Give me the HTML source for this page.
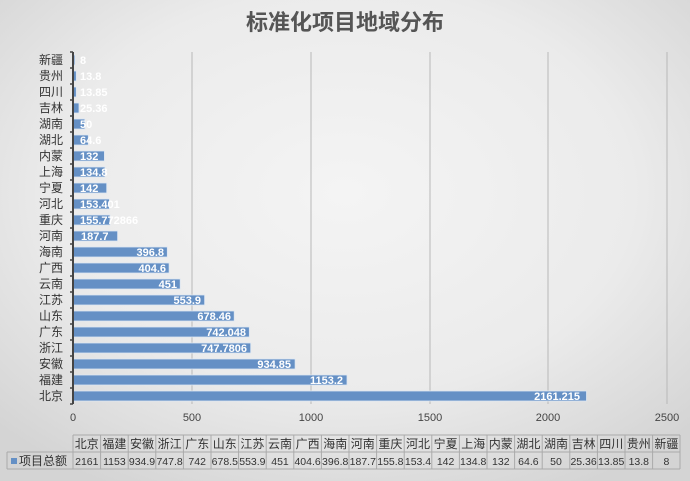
<!DOCTYPE html>
<html><head><meta charset="utf-8"><style>
body{margin:0;width:690px;height:481px;overflow:hidden}
svg{display:block;font-family:"Liberation Sans","Noto Sans CJK SC",sans-serif}
</style></head><body>
<svg width="690" height="481" viewBox="0 0 690 481">
<defs><radialGradient id="bg" cx="50%" cy="40%" r="70%"><stop offset="0" stop-color="#f4f4f4"/><stop offset="0.6" stop-color="#ebebeb"/><stop offset="1" stop-color="#d4d4d4"/></radialGradient></defs>
<rect width="690" height="481" fill="url(#bg)"/>
<text x="345" y="30" font-size="22" font-weight="bold" fill="#555" text-anchor="middle">标准化项目地域分布</text>
<g stroke="#b8b8b8" stroke-width="1">
<line x1="192" y1="52" x2="192" y2="404"/><line x1="311" y1="52" x2="311" y2="404"/><line x1="430" y1="52" x2="430" y2="404"/><line x1="548" y1="52" x2="548" y2="404"/><line x1="667" y1="52" x2="667" y2="404"/>
</g>
<g fill="#6590c5" stroke="#dce6f2" stroke-width="0.8">
<rect x="73" y="391" width="513.5" height="10"/><rect x="73" y="375" width="274" height="10"/><rect x="73" y="359" width="222.1" height="10"/><rect x="73" y="343" width="177.7" height="10"/><rect x="73" y="327" width="176.3" height="10"/><rect x="73" y="311" width="161.2" height="10"/><rect x="73" y="295" width="131.6" height="10"/><rect x="73" y="279" width="107.2" height="10"/><rect x="73" y="263" width="96.1" height="10"/><rect x="73" y="247" width="94.3" height="10"/><rect x="73" y="231" width="44.6" height="10"/><rect x="73" y="215" width="37" height="10"/><rect x="73" y="199" width="36.4" height="10"/><rect x="73" y="183" width="33.7" height="10"/><rect x="73" y="167" width="32" height="10"/><rect x="73" y="151" width="31.4" height="10"/><rect x="73" y="135" width="15.3" height="10"/><rect x="73" y="119" width="11.9" height="10"/><rect x="73" y="103" width="6" height="10"/><rect x="73" y="87" width="3.3" height="10"/><rect x="73" y="71" width="3.3" height="10"/><rect x="73" y="55" width="1.9" height="10"/>
</g>
<g stroke="#444" stroke-width="2"><line x1="73" y1="52" x2="73" y2="404"/></g>
<g stroke="#444" stroke-width="1.5">
<line x1="70" y1="52" x2="73" y2="52"/><line x1="70" y1="68" x2="73" y2="68"/><line x1="70" y1="84" x2="73" y2="84"/><line x1="70" y1="100" x2="73" y2="100"/><line x1="70" y1="116" x2="73" y2="116"/><line x1="70" y1="132" x2="73" y2="132"/><line x1="70" y1="148" x2="73" y2="148"/><line x1="70" y1="164" x2="73" y2="164"/><line x1="70" y1="180" x2="73" y2="180"/><line x1="70" y1="196" x2="73" y2="196"/><line x1="70" y1="212" x2="73" y2="212"/><line x1="70" y1="228" x2="73" y2="228"/><line x1="70" y1="244" x2="73" y2="244"/><line x1="70" y1="260" x2="73" y2="260"/><line x1="70" y1="276" x2="73" y2="276"/><line x1="70" y1="292" x2="73" y2="292"/><line x1="70" y1="308" x2="73" y2="308"/><line x1="70" y1="324" x2="73" y2="324"/><line x1="70" y1="340" x2="73" y2="340"/><line x1="70" y1="356" x2="73" y2="356"/><line x1="70" y1="372" x2="73" y2="372"/><line x1="70" y1="388" x2="73" y2="388"/><line x1="70" y1="404" x2="73" y2="404"/>
</g>
<g font-size="12" fill="#333" text-anchor="end">
<text x="63" y="400">北京</text><text x="63" y="384">福建</text><text x="63" y="368">安徽</text><text x="63" y="352">浙江</text><text x="63" y="336">广东</text><text x="63" y="320">山东</text><text x="63" y="304">江苏</text><text x="63" y="288">云南</text><text x="63" y="272">广西</text><text x="63" y="256">海南</text><text x="63" y="240">河南</text><text x="63" y="224">重庆</text><text x="63" y="208">河北</text><text x="63" y="192">宁夏</text><text x="63" y="176">上海</text><text x="63" y="160">内蒙</text><text x="63" y="144">湖北</text><text x="63" y="128">湖南</text><text x="63" y="112">吉林</text><text x="63" y="96">四川</text><text x="63" y="80">贵州</text><text x="63" y="64">新疆</text>
</g>
<g font-size="11" font-weight="bold" fill="#fff" text-anchor="end">
<text x="580" y="400">2161.215</text><text x="343" y="384">1153.2</text><text x="291" y="368">934.85</text><text x="247" y="352">747.7806</text><text x="246" y="336">742.048</text><text x="231" y="320">678.46</text><text x="201" y="304">553.9</text><text x="177" y="288">451</text><text x="166" y="272">404.6</text><text x="164" y="256">396.8</text>
</g>
<g font-size="11" font-weight="bold" fill="#fff">
<text x="81" y="240">187.7</text><text x="80" y="224">155.772866</text><text x="80" y="208">153.401</text><text x="80" y="192">142</text><text x="80" y="176">134.8</text><text x="80" y="160">132</text><text x="80" y="144">64.6</text><text x="80" y="128">50</text><text x="80" y="112">25.36</text><text x="80" y="96">13.85</text><text x="80" y="80">13.8</text><text x="80" y="64">8</text>
</g>
<g font-size="11" fill="#444" text-anchor="middle">
<text x="73" y="421">0</text><text x="192" y="421">500</text><text x="311" y="421">1000</text><text x="430" y="421">1500</text><text x="548" y="421">2000</text><text x="667" y="421">2500</text>
</g>
<g stroke="#aaa" stroke-width="1" fill="none">
<line x1="73" y1="435" x2="680" y2="435"/><line x1="7" y1="452" x2="680" y2="452"/><line x1="7" y1="469" x2="680" y2="469"/><line x1="7" y1="452" x2="7" y2="469"/>
<line x1="73" y1="435" x2="73" y2="469"/><line x1="100.6" y1="435" x2="100.6" y2="469"/><line x1="128.2" y1="435" x2="128.2" y2="469"/><line x1="155.8" y1="435" x2="155.8" y2="469"/><line x1="183.4" y1="435" x2="183.4" y2="469"/><line x1="211" y1="435" x2="211" y2="469"/><line x1="238.6" y1="435" x2="238.6" y2="469"/><line x1="266.2" y1="435" x2="266.2" y2="469"/><line x1="293.8" y1="435" x2="293.8" y2="469"/><line x1="321.4" y1="435" x2="321.4" y2="469"/><line x1="349" y1="435" x2="349" y2="469"/><line x1="376.6" y1="435" x2="376.6" y2="469"/><line x1="404.2" y1="435" x2="404.2" y2="469"/><line x1="431.8" y1="435" x2="431.8" y2="469"/><line x1="459.4" y1="435" x2="459.4" y2="469"/><line x1="487" y1="435" x2="487" y2="469"/><line x1="514.6" y1="435" x2="514.6" y2="469"/><line x1="542.2" y1="435" x2="542.2" y2="469"/><line x1="569.8" y1="435" x2="569.8" y2="469"/><line x1="597.4" y1="435" x2="597.4" y2="469"/><line x1="625" y1="435" x2="625" y2="469"/><line x1="652.6" y1="435" x2="652.6" y2="469"/><line x1="680" y1="435" x2="680" y2="469"/>
</g>
<rect x="11" y="458" width="6" height="6" fill="#6590c5"/>
<text x="19" y="465" font-size="12" fill="#333">项目总额</text>
<g font-size="12" fill="#333" text-anchor="middle" textLength="26">
<text x="86.8" y="448">北京</text><text x="114.4" y="448">福建</text><text x="142" y="448">安徽</text><text x="169.6" y="448">浙江</text><text x="197.2" y="448">广东</text><text x="224.8" y="448">山东</text><text x="252.4" y="448">江苏</text><text x="280" y="448">云南</text><text x="307.6" y="448">广西</text><text x="335.2" y="448">海南</text><text x="362.8" y="448">河南</text><text x="390.4" y="448">重庆</text><text x="418" y="448">河北</text><text x="445.6" y="448">宁夏</text><text x="473.2" y="448">上海</text><text x="500.8" y="448">内蒙</text><text x="528.4" y="448">湖北</text><text x="556" y="448">湖南</text><text x="583.6" y="448">吉林</text><text x="611.2" y="448">四川</text><text x="638.8" y="448">贵州</text><text x="666.4" y="448">新疆</text>
</g>
<g font-size="10.5" fill="#333" text-anchor="middle">
<text x="86.8" y="465">2161</text><text x="114.4" y="465">1153</text><text x="142" y="465">934.9</text><text x="169.6" y="465">747.8</text><text x="197.2" y="465">742</text><text x="224.8" y="465">678.5</text><text x="252.4" y="465">553.9</text><text x="280" y="465">451</text><text x="307.6" y="465">404.6</text><text x="335.2" y="465">396.8</text><text x="362.8" y="465">187.7</text><text x="390.4" y="465">155.8</text><text x="418" y="465">153.4</text><text x="445.6" y="465">142</text><text x="473.2" y="465">134.8</text><text x="500.8" y="465">132</text><text x="528.4" y="465">64.6</text><text x="556" y="465">50</text><text x="583.6" y="465">25.36</text><text x="611.2" y="465">13.85</text><text x="638.8" y="465">13.8</text><text x="666.4" y="465">8</text>
</g>
</svg>
</body></html>
